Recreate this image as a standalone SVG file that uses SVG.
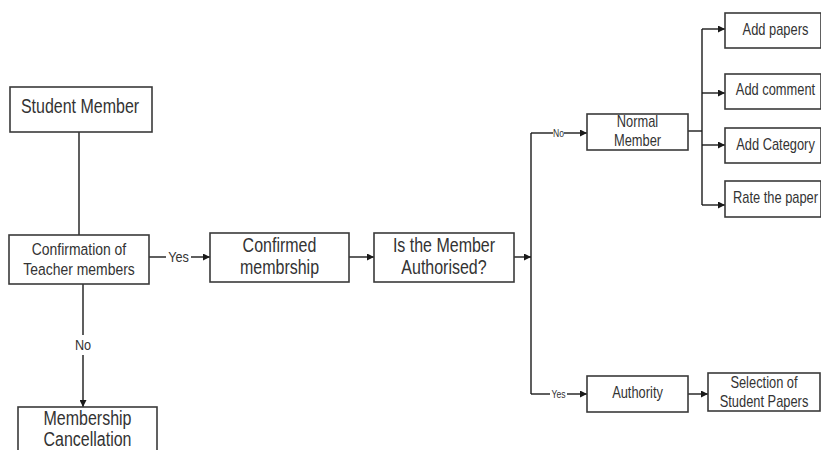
<svg xmlns="http://www.w3.org/2000/svg" width="821" height="450" viewBox="0 0 821 450">
  <style>
    .box { fill: #ffffff; stroke: #3a3a3a; stroke-width: 1.6; }
    .wire { fill: none; stroke: #1a1a1a; stroke-width: 1.4; }
    text { font-family: "Liberation Sans", Arial, sans-serif; fill: #333333; text-anchor: middle; dominant-baseline: central; }
    .xl { font-size: 19.5px; }
    .big { font-size: 17px; }
    .mid { font-size: 15.7px; }
    .lbl { font-size: 15.5px; }
    .tiny { font-size: 10.5px; }
  </style>
  <defs>
    <marker id="arrow" viewBox="0 0 10 10" refX="10" refY="5" markerWidth="7" markerHeight="7" markerUnits="userSpaceOnUse" orient="auto">
      <path d="M0,0 L10,5 L0,10 z" fill="#1a1a1a"/>
    </marker>
  </defs>
  <rect width="821" height="450" fill="#ffffff"/>

  <!-- all labels use a narrow face: Arial metrics squeezed to 82% width -->
  <g id="connectors">
    <!-- Student Member to confirmation -->
    <path class="wire" d="M79,132 V235"/>
    <!-- Yes: confirmation to confirmed membership -->
    <path class="wire" d="M149,257 H166"/>
    <path class="wire" d="M191,257 H210" marker-end="url(#arrow)"/>
    <text class="lbl" transform="matrix(0.82 0 0 1 178.5 0)" x="0" y="257">Yes</text>
    <!-- No: confirmation to cancellation -->
    <path class="wire" d="M83,284 V335"/>
    <path class="wire" d="M83,355 V407" marker-end="url(#arrow)"/>
    <text class="lbl" transform="matrix(0.82 0 0 1 83 0)" x="0" y="345">No</text>
    <!-- confirmed to authorised check -->
    <path class="wire" d="M349,257 H374" marker-end="url(#arrow)"/>
    <path class="wire" d="M514,257 H531" marker-end="url(#arrow)"/>
    <!-- decision split -->
    <path class="wire" d="M531,133 V394"/>
    <path class="wire" d="M531,133 H553"/>
    <path class="wire" d="M564,133 H587" marker-end="url(#arrow)"/>
    <text class="tiny" transform="matrix(0.82 0 0 1 558.5 0)" x="0" y="133">No</text>
    <path class="wire" d="M531,394 H550"/>
    <path class="wire" d="M567,394 H587" marker-end="url(#arrow)"/>
    <text class="tiny" transform="matrix(0.82 0 0 1 558.5 0)" x="0" y="394">Yes</text>
    <!-- normal member actions -->
    <path class="wire" d="M688,131 H702"/>
    <path class="wire" d="M702,29 V205"/>
    <path class="wire" d="M702,29 H725" marker-end="url(#arrow)"/>
    <path class="wire" d="M702,93 H725" marker-end="url(#arrow)"/>
    <path class="wire" d="M702,145 H725" marker-end="url(#arrow)"/>
    <path class="wire" d="M702,205 H725" marker-end="url(#arrow)"/>
    <!-- authority to selection -->
    <path class="wire" d="M688,394 H708" marker-end="url(#arrow)"/>
  </g>

  <g id="student-member">
    <rect class="box" x="10" y="87" width="142" height="45"/>
    <text class="xl" transform="matrix(0.82 0 0 1 80 0)" x="0" y="106">Student Member</text>
  </g>

  <g id="confirmation">
    <rect class="box" x="9" y="235" width="140" height="49"/>
    <text class="big" transform="matrix(0.82 0 0 1 79 0)" x="0" y="249">Confirmation of</text>
    <text class="big" transform="matrix(0.82 0 0 1 79 0)" x="0" y="269">Teacher members</text>
  </g>

  <g id="cancellation">
    <rect class="box" x="18" y="407" width="139" height="50"/>
    <text class="xl" transform="matrix(0.82 0 0 1 87.5 0)" x="0" y="418">Membership</text>
    <text class="xl" transform="matrix(0.82 0 0 1 87.5 0)" x="0" y="439">Cancellation</text>
  </g>

  <g id="confirmed">
    <rect class="box" x="210" y="233" width="139" height="49"/>
    <text class="xl" transform="matrix(0.82 0 0 1 279.5 0)" x="0" y="245">Confirmed</text>
    <text class="xl" transform="matrix(0.82 0 0 1 279.5 0)" x="0" y="267">membrship</text>
  </g>

  <g id="authorised-check">
    <rect class="box" x="374" y="233" width="140" height="49"/>
    <text class="xl" transform="matrix(0.82 0 0 1 444 0)" x="0" y="245">Is the Member</text>
    <text class="xl" transform="matrix(0.82 0 0 1 444 0)" x="0" y="267">Authorised?</text>
  </g>

  <g id="normal-member">
    <rect class="box" x="587" y="114" width="101" height="36"/>
    <text class="mid" transform="matrix(0.82 0 0 1 637.5 0)" x="0" y="122">Normal</text>
    <text class="mid" transform="matrix(0.82 0 0 1 637.5 0)" x="0" y="141">Member</text>
  </g>

  <g id="add-papers">
    <rect class="box" x="725" y="13" width="96" height="35"/>
    <text class="mid" transform="matrix(0.82 0 0 1 775.5 0)" x="0" y="30">Add papers</text>
  </g>

  <g id="add-comment">
    <rect class="box" x="725" y="74" width="96" height="35"/>
    <text class="mid" transform="matrix(0.82 0 0 1 775.5 0)" x="0" y="90">Add comment</text>
  </g>

  <g id="add-category">
    <rect class="box" x="725" y="128" width="96" height="35"/>
    <text class="mid" transform="matrix(0.82 0 0 1 775.5 0)" x="0" y="145">Add Category</text>
  </g>

  <g id="rate-paper">
    <rect class="box" x="725" y="181" width="96" height="36"/>
    <text class="mid" transform="matrix(0.82 0 0 1 775.5 0)" x="0" y="198">Rate the paper</text>
  </g>

  <g id="authority">
    <rect class="box" x="587" y="376" width="101" height="36"/>
    <text class="mid" transform="matrix(0.82 0 0 1 637.5 0)" x="0" y="393">Authority</text>
  </g>

  <g id="selection">
    <rect class="box" x="708" y="373" width="112" height="38"/>
    <text class="mid" transform="matrix(0.82 0 0 1 764 0)" x="0" y="383">Selection of</text>
    <text class="mid" transform="matrix(0.82 0 0 1 764 0)" x="0" y="402">Student Papers</text>
  </g>
</svg>
